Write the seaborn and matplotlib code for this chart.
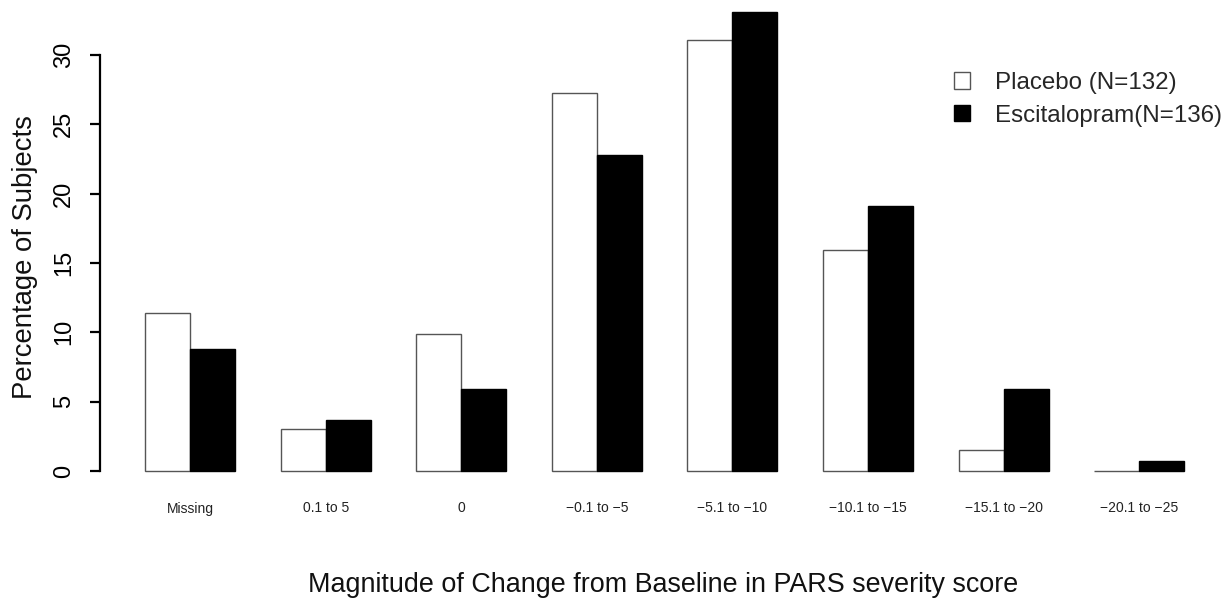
import matplotlib
matplotlib.use("Agg")
import matplotlib.pyplot as plt
import seaborn as sns
import pandas as pd
from matplotlib.patches import Patch

categories = ["Missing", "0.1 to 5", "0", "\u22120.1 to \u22125", "\u22125.1 to \u221210",
              "\u221210.1 to \u221215", "\u221215.1 to \u221220", "\u221220.1 to \u221225"]
placebo = [11.36, 3.03, 9.85, 27.27, 31.06, 15.91, 1.52, 0.0]
escitalopram = [8.82, 3.68, 5.88, 22.79, 33.09, 19.12, 5.88, 0.74]
groups = ["Placebo (N=132)", "Escitalopram(N=136)"]
yticks = [0, 5, 10, 15, 20, 25, 30]

df = pd.DataFrame({
    "category": categories * 2,
    "group": [groups[0]] * len(categories) + [groups[1]] * len(categories),
    "pct": placebo + escitalopram,
})

sns.set_style("white")
plt.rcParams["font.family"] = ["Liberation Sans", "DejaVu Sans"]

W, H = 1230, 605
fig = plt.figure(figsize=(W / 100, H / 100), dpi=100)
ax = fig.add_axes([100 / W, 116 / H, 1126 / W, 489 / H])

sns.barplot(data=df, x="category", y="pct", hue="group", order=categories,
            hue_order=groups, palette=["white", "black"], width=0.664, gap=0,
            saturation=1, legend=False, ax=ax, linewidth=1.0)

for bar in ax.containers[0]:
    bar.set_edgecolor("#555555")
for bar in ax.containers[1]:
    bar.set_edgecolor("black")

ax.set_xlim(-0.664, 7.64)
ax.set_ylim(-1.3, 33.96)
for s in ["top", "right", "bottom"]:
    ax.spines[s].set_visible(False)
ax.spines["left"].set_bounds(0, 30)
ax.spines["left"].set_linewidth(1.6)
ax.spines["left"].set_color("black")

ax.set_yticks(yticks)
ax.set_yticklabels([str(v) for v in yticks], fontsize=17, rotation=90, va="center")
ax.tick_params(axis="y", length=7, width=1.6, pad=11, colors="black", left=True)
ax.tick_params(axis="x", length=0, pad=9)
ax.set_xticks(range(len(categories)))
ax.set_xticklabels(categories, fontsize=10, color="#222222")
ax.set_xlabel("")
ax.set_ylabel("")

fig.text(663 / W, 1 - 585 / H, "Magnitude of Change from Baseline in PARS severity score",
         ha="center", va="center", fontsize=19.4, color="#111111")
fig.text(25 / W, 1 - 257 / H, "Percentage of Subjects", rotation=90,
         ha="center", va="center", fontsize=19.8, color="#111111")

handles = [Patch(facecolor="white", edgecolor="#555555", linewidth=1.0),
           Patch(facecolor="black", edgecolor="black", linewidth=1.0)]
ax.legend(handles, groups, loc="upper left", bbox_to_anchor=(954 / W, 1 - 72 / H),
          bbox_transform=fig.transFigure, frameon=False, fontsize=17.4,
          handlelength=0.65, handleheight=0.65, handletextpad=1.05,
          borderpad=0, borderaxespad=0, labelspacing=0.45)

fig.savefig("out.png", dpi=100)
